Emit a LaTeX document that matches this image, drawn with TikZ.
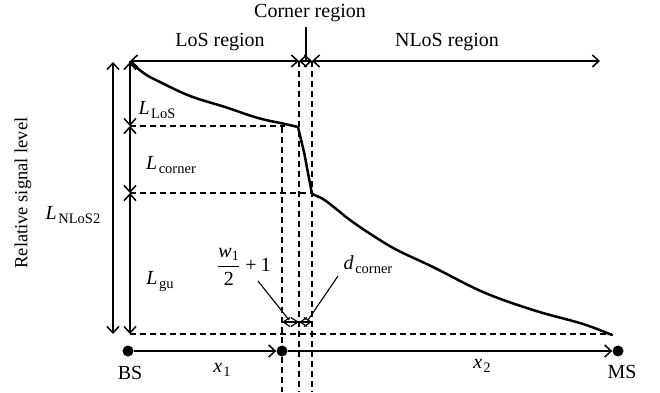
\documentclass[tikz,border=0pt]{standalone}
\usepackage{fontspec}
\setmainfont{Liberation Serif}
\usepackage{amsmath}
\usetikzlibrary{arrows.meta}
\newcommand{\bigtxt}{\fontsize{20}{24}\selectfont}
\newcommand{\subtxt}{\fontsize{14.5}{15}\selectfont}
\newcommand{\Lsym}[1]{\textit{L}\kern1.5pt\raisebox{-4pt}{\subtxt #1}}
\begin{document}
\begin{tikzpicture}[x=1pt,y=-1pt,
  ln/.style={line width=1.5pt},
  dsh/.style={line width=1.1pt, dash pattern=on 6pt off 4pt},
  tip/.tip={Straight Barb[length=6.5pt,width=12pt]},
  dim/.style={line width=1.5pt, tip-tip},
  sdim/.style={line width=1.2pt, {Straight Barb[length=7pt,width=9pt]}-{Straight Barb[length=7pt,width=9pt]}},
  lbl/.style={inner sep=0pt, font=\bigtxt},
  dot/.style={circle, fill=black, inner sep=0pt, minimum size=11pt},
  curve/.style={line width=2.5pt, line join=round, line cap=round},
]
\useasboundingbox (0,0) rectangle (660,392);

% key points
\coordinate (OT) at (113,62);
\coordinate (OB) at (113,334);
\coordinate (LT) at (130,62);
\coordinate (L1) at (130,126);
\coordinate (L2) at (130,193);
\coordinate (LB) at (130,334);
\coordinate (A0) at (130,61);
\coordinate (A1) at (299,61);
\coordinate (A2) at (312,61);
\coordinate (A3) at (600,61);
\coordinate (C0) at (306,27);
\coordinate (C1) at (306,61);
\coordinate (V1t) at (282,127);
\coordinate (V1b) at (282,392);
\coordinate (V2b) at (299,392);
\coordinate (V3b) at (312,392);
\coordinate (K1) at (285,126);
\coordinate (K2) at (312,193);
\coordinate (K3) at (612,334);
\coordinate (D0) at (282,322);
\coordinate (D1) at (299,322);
\coordinate (D2) at (312,322);

% curve
\draw[curve] plot[smooth, tension=0.6] coordinates {(130,62) (145,74) (160,82) (190,96) (225,107) (258,118) (285,124) (298,127)}
  -- (304,152) -- (312,194)
  plot[smooth, tension=0.6] coordinates {(312,194) (323,199) (335,208) (350,220) (372,235) (397,250) (433,267) (483,292) (533,310) (583,324) (612,335)};

% dashed guides
\draw[dsh] (L1) -- (K1);
\draw[dsh] (L2) -- (K2);
\draw[dsh] (LB) -- (K3);
\draw[dsh] (V1t) -- (V1b);
\draw[dsh] (A1) -- (V2b);
\draw[dsh] (A2) -- (V3b);

% vertical dimensions
\draw[dim] (OT) -- (OB);
\draw[dim] (LT) -- (L1);
\draw[dim] (L1) -- (L2);
\draw[dim] (L2) -- (LB);

% top dimensions
\draw[dim] (A0) -- (A1);
\draw[dim] (A1) -- (A2);
\draw[dim] (A2) -- (A3);
\draw[ln] (C0) -- (C1);

% small dimensions
\draw[sdim] (D0) -- (D1);
\draw[sdim] (D1) -- (D2);

% axis
\node[dot] (BS) at (128,351) {};
\node[dot] (P1) at (282,351) {};
\node[dot] (MS) at (618,351) {};
\draw[ln, -tip] (BS) -- (P1);
\draw[ln, -tip] (P1) -- (MS);

% labels
\node[lbl] (tcorner) at (310,13) {Corner region};
\node[lbl] (tlos) at (220,42) {LoS region};
\node[lbl] (tnlos) at (447,42) {NLoS region};
\node[lbl, font=\fontsize{18.5}{20}\selectfont, rotate=90] (trel) at (23,193) {Relative signal level};
\node[lbl] (tL2) at (73,215) {\Lsym{NLoS2}};
\node[lbl] (tLlos) at (157,110) {\Lsym{LoS}};
\node[lbl] (tLc) at (171,165) {\Lsym{corner}};
\node[lbl] (tLgu) at (160,282) {\Lsym{gu}};
\node[lbl] (tfrac) at (244,267) {$\dfrac{\textit{w}_{\text{1}}}{\text{2}}$\kern5pt+\kern4pt1};
\node[lbl] (tdc) at (368,265) {\textit{d}\kern1.5pt\raisebox{-4pt}{\subtxt corner}};
\coordinate (F1) at (258,281);
\coordinate (F2) at (289,320);
\coordinate (G1) at (338,276);
\coordinate (G2) at (308,320);
\draw[line width=1.1pt] (F1) -- (F2);
\draw[line width=1.1pt] (G1) -- (G2);
\node[lbl] (tBS) at (130,373) {BS};
\node[lbl] (tMS) at (622,372) {MS};
\node[lbl] (tx1) at (222,370) {\textit{x}\kern1pt\raisebox{-4pt}{\subtxt 1}};
\node[lbl] (tx2) at (482,366) {\textit{x}\kern1pt\raisebox{-4pt}{\subtxt 2}};
\end{tikzpicture}
\end{document}
